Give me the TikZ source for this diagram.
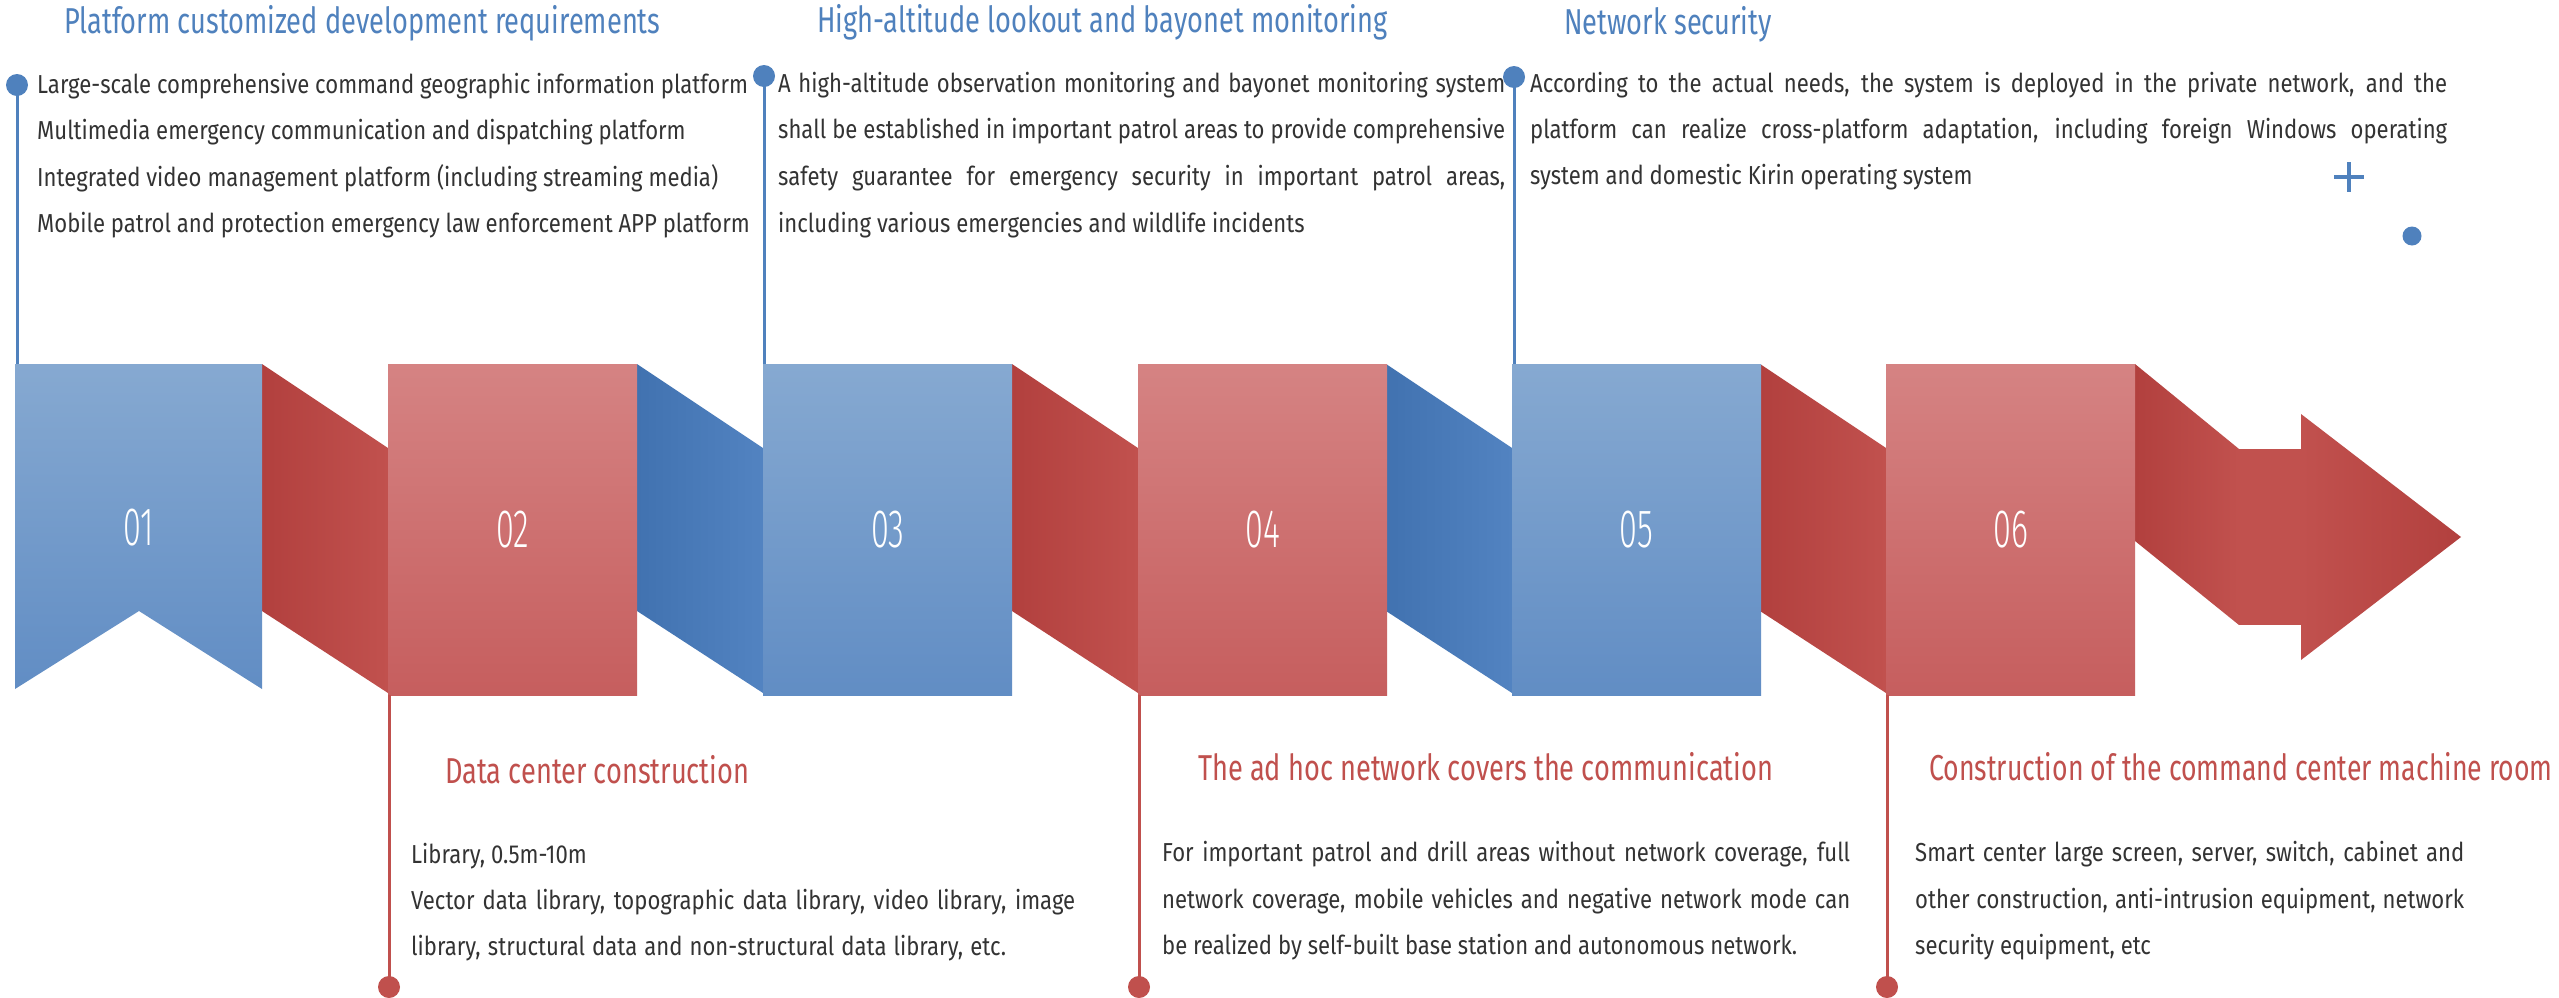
\documentclass[tikz,border=0pt]{standalone}
\usepackage{fontspec}
\setmainfont{Fira Sans}[FakeStretch=0.85]
\newfontfamily\titlefont{Fira Sans}[FakeStretch=0.755]
\newfontfamily\titlefontb{Fira Sans}[FakeStretch=0.74]
\newfontfamily\numfont{Fira Sans Light}[FakeStretch=0.6]
\definecolor{tblue}{RGB}{79,129,189}
\definecolor{tred}{RGB}{192,80,77}
\definecolor{txt}{RGB}{51,51,51}
\definecolor{bbTop}{RGB}{134,169,209}
\definecolor{bbBot}{RGB}{97,141,196}
\definecolor{rbTop}{RGB}{213,131,131}
\definecolor{rbBot}{RGB}{198,94,94}
\definecolor{rcL}{RGB}{178,64,62}
\definecolor{rcR}{RGB}{193,81,78}
\definecolor{bcL}{RGB}{65,114,176}
\definecolor{bcR}{RGB}{82,131,193}
\newcommand\jl[2]{\makebox[#1][s]{#2}}
\begin{document}
\begin{tikzpicture}[x=1pt,y=-1pt,
  bluebox/.style={top color=bbTop,bottom color=bbBot,draw=none},
  redbox/.style={top color=rbTop,bottom color=rbBot,draw=none},
  boxnode/.style={inner sep=0pt,minimum width=249pt,minimum height=331pt,anchor=north west,text=white,font=\numfont\fontsize{54pt}{54pt}\selectfont},
  redconn/.style={left color=rcL,right color=rcR},
  blueconn/.style={left color=bcL,right color=bcR},
  numtext/.style={text=white,inner sep=0pt,font=\numfont\fontsize{54pt}{54pt}\selectfont},
  body/.style={anchor=base west,inner sep=0pt,text=txt,font=\fontsize{26pt}{30pt}\selectfont},
  ttl/.style={anchor=base west,inner sep=0pt,font=\titlefont\fontsize{36pt}{40pt}\selectfont},
  bdot/.style={circle,fill=tblue,inner sep=0pt,minimum size=22pt},
  rdot/.style={circle,fill=tred,inner sep=0pt,minimum size=22pt},
  bline/.style={draw=tblue,line width=3pt},
  rline/.style={draw=tred,line width=3pt}]
\useasboundingbox (0,0) rectangle (2559,997);
\fill[white] (0,0) rectangle (2559,997);
% connectors
\shade[redconn] (262,364) -- (388,448) -- (388,693) -- (262,611) -- cycle;
\shade[blueconn] (637,364) -- (763,448) -- (763,693) -- (637,611) -- cycle;
\shade[redconn] (1012,364) -- (1138,448) -- (1138,693) -- (1012,611) -- cycle;
\shade[blueconn] (1386,364) -- (1512,448) -- (1512,693) -- (1386,611) -- cycle;
\shade[redconn] (1760,364) -- (1886,448) -- (1886,693) -- (1760,611) -- cycle;
\shade[redconn] (2135,364) -- (2239,449) -- (2239,625) -- (2135,541) -- cycle;
% arrow
\fill[rcR] (2239,449) rectangle (2301,625);
\shade[left color=rcR,right color=rcL] (2301,414) -- (2461,537) -- (2301,660) -- cycle;
% boxes
\shade[bluebox] (15,364) -- (262,364) -- (262,689) -- (139,611) -- (15,689) -- cycle;
\node[numtext] (n1) at (139,528) {01};
\node[boxnode,redbox] (b2) at (388,364) {02};
\node[boxnode,bluebox] (b3) at (763,364) {03};
\node[boxnode,redbox] (b4) at (1138,364) {04};
\node[boxnode,bluebox] (b5) at (1512,364) {05};
\node[boxnode,redbox] (b6) at (1886,364) {06};
\coordinate (b1top) at (17,364);
% lines and dots
\node[bdot] (d1) at (17,85) {};
\node[bdot] (d3) at (764,76) {};
\node[bdot] (d5) at (1514,77) {};
\draw[bline] (d1.center) -- (b1top);
\draw[bline] (d3.center) -- (d3.center |- b3.north);
\draw[bline] (d5.center) -- (d5.center |- b5.north);
\node[rdot] (d2) at (389,987) {};
\node[rdot] (d4) at (1139,987) {};
\node[rdot] (d6) at (1887,987) {};
\draw[rline] (d2.center |- b2.south) -- (d2.center);
\draw[rline] (d4.center |- b4.south) -- (d4.center);
\draw[rline] (d6.center |- b6.south) -- (d6.center);
% decorations
\draw[tblue,line width=3.5pt] (2334,177) -- (2364,177) (2349,162) -- (2349,192);
\fill[tblue] (2412,236) circle (9.5);
% titles
\node[ttl,text=tblue] (h1) at (64,33) {Platform customized development requirements};
\node[ttl,text=tblue] (h3) at (817,32) {High-altitude lookout and bayonet monitoring};
\node[ttl,text=tblue] (h5) at (1564,34) {Network security};
\node[ttl,text=tred] (h2) at (445,783) {Data center construction};
\node[ttl,text=tred] (h4) at (1198,780) {The ad hoc network covers the communication};
\node[ttl,text=tred,font=\titlefontb\fontsize{36pt}{40pt}\selectfont] (h6) at (1929,780) {Construction of the command center machine room};
% column 1
\node[body] (p1a) at (37,93) {Large-scale comprehensive command geographic information platform};
\node[body] (p1b) at (37,139) {Multimedia emergency communication and dispatching platform};
\node[body] (p1c) at (37,186) {Integrated video management platform (including streaming media)};
\node[body] (p1d) at (37,232) {Mobile patrol and protection emergency law enforcement APP platform};
% column 3
\node[body] (p3a) at (778,92) {\jl{727pt}{A high-altitude observation monitoring and bayonet monitoring system}};
\node[body] (p3b) at (778,138) {\jl{727pt}{shall be established in important patrol areas to provide comprehensive}};
\node[body] (p3c) at (778,185) {\jl{727pt}{safety guarantee for emergency security in important patrol areas,}};
\node[body] (p3d) at (778,232) {including various emergencies and wildlife incidents};
% column 5
\node[body] (p5a) at (1530,92) {\jl{917pt}{According to the actual needs, the system is deployed in the private network, and the}};
\node[body] (p5b) at (1530,138) {\jl{917pt}{platform can realize cross-platform adaptation, including foreign Windows operating}};
\node[body] (p5c) at (1530,184) {system and domestic Kirin operating system};
% column 2
\node[body] (p2a) at (411,863) {Library, 0.5m-10m};
\node[body] (p2b) at (411,909) {\jl{664pt}{Vector data library, topographic data library, video library, image}};
\node[body] (p2c) at (411,955) {\jl{595pt}{library, structural data and non-structural data library, etc.}};
% column 4
\node[body] (p4a) at (1162,861) {\jl{688pt}{For important patrol and drill areas without network coverage, full}};
\node[body] (p4b) at (1162,908) {\jl{688pt}{network coverage, mobile vehicles and negative network mode can}};
\node[body] (p4c) at (1162,954) {be realized by self-built base station and autonomous network.};
% column 6
\node[body] (p6a) at (1915,861) {\jl{549pt}{Smart center large screen, server, switch, cabinet and}};
\node[body] (p6b) at (1915,908) {\jl{549pt}{other construction, anti-intrusion equipment, network}};
\node[body] (p6c) at (1915,954) {security equipment, etc};
\end{tikzpicture}
\end{document}
